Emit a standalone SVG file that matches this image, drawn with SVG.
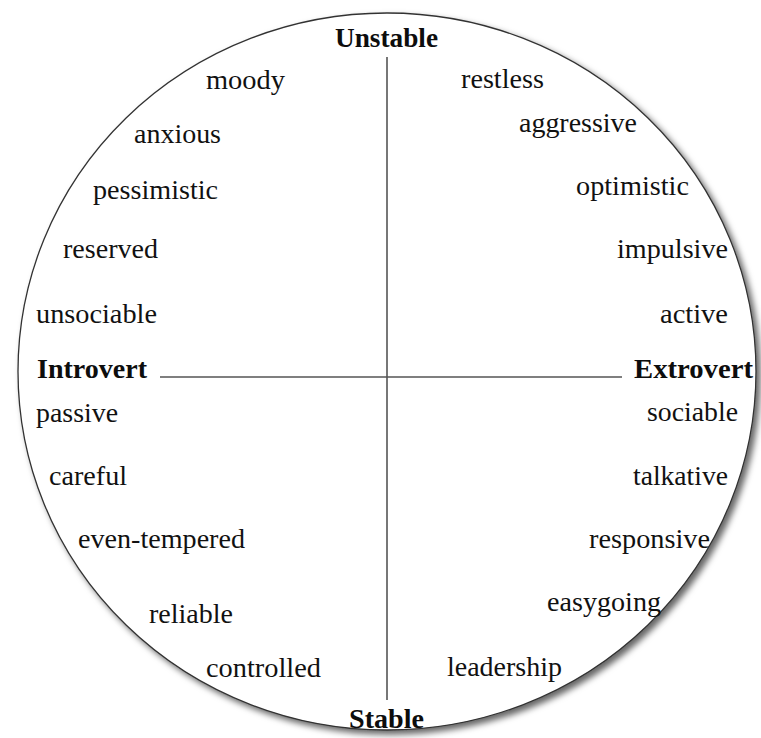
<svg xmlns="http://www.w3.org/2000/svg" width="761" height="738" viewBox="0 0 761 738">
  <defs>
    <filter id="shadow" x="-5%" y="-5%" width="115%" height="115%">
      <feDropShadow dx="4" dy="4" stdDeviation="3" flood-color="#000" flood-opacity="0.6"/>
    </filter>
  </defs>
  <style>
    text { font-family: "Liberation Serif", "Times New Roman", serif; font-size: 27px; fill: #111; }
    .b { font-weight: bold; fill: #0d0d0d; }
    .axis { stroke: #555; stroke-width: 1.6; fill: none; }
    .rim { fill: #fff; stroke: #333; stroke-width: 1.3; }
  </style>
  <rect width="761" height="738" fill="#fff"/>
  <g id="circle">
    <ellipse class="rim" cx="387" cy="371.5" rx="369" ry="358.5" filter="url(#shadow)"/>
  </g>
  <g id="connectors">
    <line class="axis" x1="387" y1="57" x2="387" y2="700"/>
    <line class="axis" x1="160" y1="377" x2="622" y2="377"/>
  </g>
  <g id="unstable"><text class="b" x="335" y="47" textLength="103" lengthAdjust="spacingAndGlyphs">Unstable</text></g>
  <g id="stable"><text class="b" x="349" y="728" textLength="75" lengthAdjust="spacingAndGlyphs">Stable</text></g>
  <g id="introvert"><text class="b" x="37" y="378" textLength="110" lengthAdjust="spacingAndGlyphs">Introvert</text></g>
  <g id="extrovert"><text class="b" x="634" y="378" textLength="119" lengthAdjust="spacingAndGlyphs">Extrovert</text></g>

  <g id="moody"><text x="206" y="89" textLength="79" lengthAdjust="spacingAndGlyphs">moody</text></g>
  <g id="anxious"><text x="134" y="143" textLength="87" lengthAdjust="spacingAndGlyphs">anxious</text></g>
  <g id="pessimistic"><text x="93" y="199" textLength="125" lengthAdjust="spacingAndGlyphs">pessimistic</text></g>
  <g id="reserved"><text x="63" y="258" textLength="95" lengthAdjust="spacingAndGlyphs">reserved</text></g>
  <g id="unsociable"><text x="36" y="323" textLength="121" lengthAdjust="spacingAndGlyphs">unsociable</text></g>

  <g id="restless"><text x="461" y="88" textLength="83" lengthAdjust="spacingAndGlyphs">restless</text></g>
  <g id="aggressive"><text x="519" y="132" textLength="118" lengthAdjust="spacingAndGlyphs">aggressive</text></g>
  <g id="optimistic"><text x="576" y="195" textLength="113" lengthAdjust="spacingAndGlyphs">optimistic</text></g>
  <g id="impulsive"><text x="617" y="258" textLength="111" lengthAdjust="spacingAndGlyphs">impulsive</text></g>
  <g id="active"><text x="660" y="323" textLength="68" lengthAdjust="spacingAndGlyphs">active</text></g>

  <g id="passive"><text x="36" y="422" textLength="82" lengthAdjust="spacingAndGlyphs">passive</text></g>
  <g id="careful"><text x="49" y="485" textLength="78" lengthAdjust="spacingAndGlyphs">careful</text></g>
  <g id="even-tempered"><text x="78" y="548" textLength="167" lengthAdjust="spacingAndGlyphs">even-tempered</text></g>
  <g id="reliable"><text x="149" y="623" textLength="84" lengthAdjust="spacingAndGlyphs">reliable</text></g>
  <g id="controlled"><text x="206" y="677" textLength="115" lengthAdjust="spacingAndGlyphs">controlled</text></g>

  <g id="sociable"><text x="647" y="421" textLength="91" lengthAdjust="spacingAndGlyphs">sociable</text></g>
  <g id="talkative"><text x="633" y="485" textLength="95" lengthAdjust="spacingAndGlyphs">talkative</text></g>
  <g id="responsive"><text x="589" y="548" textLength="121" lengthAdjust="spacingAndGlyphs">responsive</text></g>
  <g id="easygoing"><text x="547" y="611" textLength="114" lengthAdjust="spacingAndGlyphs">easygoing</text></g>
  <g id="leadership"><text x="447" y="676" textLength="115" lengthAdjust="spacingAndGlyphs">leadership</text></g>
</svg>
